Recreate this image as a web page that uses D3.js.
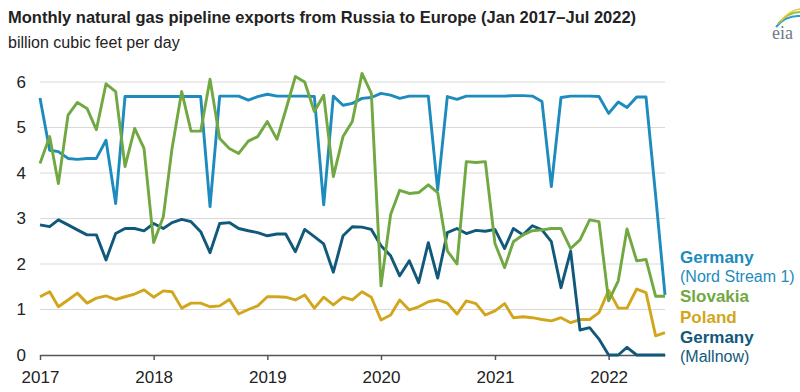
<!DOCTYPE html>
<html><head><meta charset="utf-8">
<script src="https://cdn.jsdelivr.net/npm/d3@7"></script>
<style>
body{margin:0;background:#fff;}
svg{display:block;font-family:"Liberation Sans",Arial,sans-serif;}
</style></head>
<body><svg id="c" width="800" height="392"></svg>
<script>
const startMonth = "2017-01";
const endMonth = "2022-07";
const yearTicks = [2017, 2018, 2019, 2020, 2021, 2022];
const yTicks = [0, 1, 2, 3, 4, 5, 6];

const nordStream = [5.65,4.5,4.47,4.32,4.3,4.32,4.32,4.72,3.33,5.68,5.68,5.68,
  5.68,5.68,5.68,5.68,5.68,5.68,3.26,5.69,5.69,5.69,5.6,5.68,
  5.73,5.69,5.69,5.69,5.69,5.68,3.3,5.69,5.49,5.53,5.64,5.66,
  5.75,5.71,5.64,5.69,5.69,5.69,3.63,5.68,5.62,5.69,5.69,5.69,
  5.69,5.69,5.7,5.7,5.69,5.57,3.7,5.66,5.69,5.69,5.69,5.68,
  5.31,5.56,5.44,5.67,5.67,3.5,1.32];
const slovakia = [4.21,4.8,3.77,5.27,5.55,5.42,4.95,5.96,5.79,4.14,4.98,4.54,
  2.47,3.04,4.54,5.79,4.92,4.92,6.06,4.76,4.54,4.43,4.7,4.8,
  5.13,4.74,5.38,6.12,6.0,5.35,5.71,3.92,4.8,5.13,6.19,5.75,
  1.52,3.09,3.62,3.55,3.57,3.74,3.57,2.29,2.0,4.25,4.23,4.25,
  2.45,1.92,2.49,2.64,2.73,2.75,2.78,2.78,2.34,2.53,2.97,2.93,
  1.19,1.63,2.77,2.07,2.1,1.29,1.29];
const poland = [1.28,1.39,1.06,1.21,1.36,1.14,1.25,1.3,1.22,1.28,1.34,1.43,
  1.27,1.41,1.39,1.03,1.14,1.14,1.06,1.08,1.22,0.9,1.0,1.08,
  1.28,1.28,1.27,1.21,1.32,1.03,1.27,1.1,1.27,1.21,1.39,1.27,
  0.77,0.88,1.21,0.99,1.06,1.17,1.21,1.14,0.9,1.19,1.13,0.88,
  0.97,1.13,0.82,0.84,0.82,0.78,0.75,0.82,0.71,0.78,0.78,0.93,
  1.42,1.03,1.03,1.45,1.37,0.42,0.49];
const mallnow = [2.86,2.82,2.97,2.86,2.75,2.64,2.64,2.09,2.67,2.78,2.78,2.73,
  2.89,2.78,2.91,2.98,2.93,2.71,2.25,2.89,2.91,2.78,2.73,2.69,
  2.62,2.66,2.66,2.27,2.76,2.6,2.44,1.82,2.62,2.82,2.81,2.76,
  2.4,2.18,1.74,2.07,1.59,2.47,1.69,2.69,2.78,2.67,2.74,2.72,
  2.76,2.34,2.78,2.64,2.84,2.75,2.49,1.48,2.28,0.55,0.6,0.35,
  0,0,0.17,0,0,0,0];

const seriesNames = ["Poland","Germany (Mallnow)","Germany (Nord Stream 1)","Slovakia"];
const seriesColors = ["#d2a61c","#11597a","#1d8bbd","#71a842"];

const parse = d3.timeParse("%Y-%m");
const months = d3.timeMonth.range(parse(startMonth), d3.timeMonth.offset(parse(endMonth),1));

const svg = d3.select("#c");
const x = d3.scaleTime().domain([parse(startMonth), parse(endMonth)]).range([40, 665]);
const y = d3.scaleLinear().domain([0, 6]).range([355, 82]);

// title
svg.append("text").attr("x",8).attr("y",23).attr("font-size",16.5).attr("font-weight","bold")
  .attr("fill","#222").text("Monthly natural gas pipeline exports from Russia to Europe (Jan 2017–Jul 2022)");
svg.append("text").attr("x",8).attr("y",48).attr("font-size",16).attr("fill","#222")
  .text("billion cubic feet per day");

// grid
svg.append("g").selectAll("line").data(yTicks.filter(d=>d>0)).join("line")
  .attr("x1",40).attr("x2",665).attr("y1",d=>y(d)).attr("y2",d=>y(d))
  .attr("stroke","#d9d9d9").attr("stroke-width",1);

// y labels
svg.append("g").selectAll("text").data(yTicks).join("text")
  .attr("x",26).attr("y",d=>y(d)).attr("dy","0.35em").attr("text-anchor","end")
  .attr("font-size",17).attr("fill","#222").text(d=>d);

// x axis
const xAxis = d3.axisBottom(x).tickValues(yearTicks.map(v=>new Date(v,0,1)))
  .tickFormat(d3.timeFormat("%Y")).tickSize(5).tickSizeOuter(0);
const gx = svg.append("g").attr("transform",`translate(0,${y(0)})`).call(xAxis);
gx.select(".domain").attr("stroke","#555").attr("stroke-width",1.5);
gx.selectAll(".tick line").attr("stroke","#555").attr("stroke-width",1.5);
gx.selectAll(".tick text").attr("font-size",17).attr("fill","#222").attr("dy","1.15em")
  .attr("font-family","Liberation Sans, Arial, sans-serif");

// lines
const line = d3.line().x((d,i)=>x(months[i])).y(d=>y(d));
const data = [poland, mallnow, nordStream, slovakia];
svg.append("g").selectAll("path").data(data).join("path")
  .attr("d",line).attr("fill","none")
  .attr("stroke",(d,i)=>seriesColors[i]).attr("stroke-width",2.9)
  .attr("stroke-linejoin","round");

// legend
const legend = [
  {t:"Germany", y:263, c:seriesColors[2], b:true},
  {t:"(Nord Stream 1)", y:282, c:seriesColors[2], b:false},
  {t:"Slovakia", y:302, c:seriesColors[3], b:true},
  {t:"Poland", y:323, c:seriesColors[0], b:true},
  {t:"Germany", y:343, c:seriesColors[1], b:true},
  {t:"(Mallnow)", y:362, c:seriesColors[1], b:false}
];
svg.append("g").selectAll("text").data(legend).join("text")
  .attr("x",680).attr("y",d=>d.y).attr("fill",d=>d.c)
  .attr("font-size",d=>d.b?17:16).attr("font-weight",d=>d.b?"bold":"normal").text(d=>d.t);

// eia logo
const logo = svg.append("g");
logo.append("path").attr("d","M776,27 Q786,15 800,16").attr("fill","none").attr("stroke","#2e9bd6").attr("stroke-width",2);
logo.append("path").attr("d","M778,24 Q788,12 800,12").attr("fill","none").attr("stroke","#8cc63f").attr("stroke-width",2);
logo.append("path").attr("d","M781,21 Q790,10 800,9").attr("fill","none").attr("stroke","#f2c230").attr("stroke-width",1.5);
logo.append("text").attr("x",772).attr("y",39).attr("font-family","Liberation Serif, serif")
  .attr("font-size",18).attr("fill","#6d7b87").text("eia");
</script></body></html>
